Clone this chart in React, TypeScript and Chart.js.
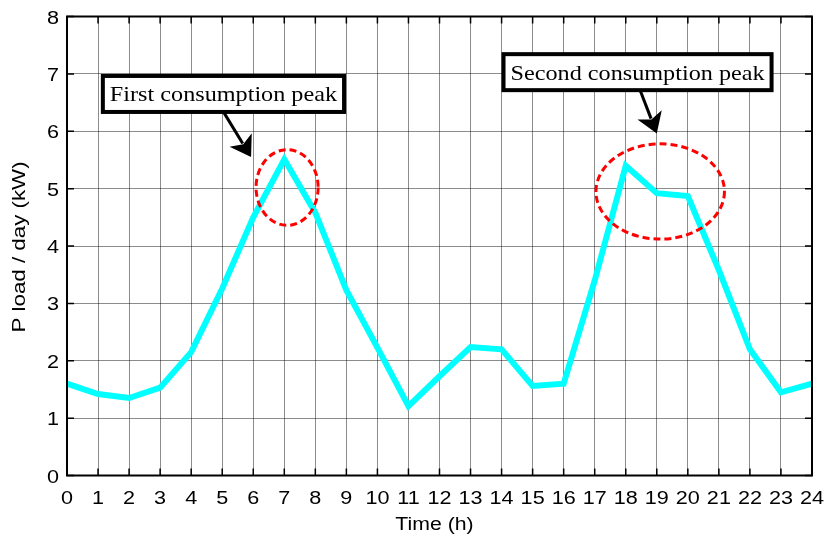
import React, { useEffect, useRef } from 'react';
import { Chart, registerables } from 'chart.js';

Chart.register(...registerables);

// ---- data ----
const hours = ['0', '1', '2', '3', '4', '5', '6', '7', '8', '9', '10', '11', '12', '13', '14', '15', '16', '17', '18', '19', '20', '21', '22', '23', '24'];
const pLoad = [1.6, 1.42, 1.35, 1.53, 2.15, 3.26, 4.5, 5.51, 4.58, 3.23, 2.23, 1.21, 1.73, 2.24, 2.2, 1.56, 1.6, 3.4, 5.4, 4.92, 4.87, 3.58, 2.2, 1.45, 1.6];
const yTickValues = [0, 1, 2, 3, 4, 5, 6, 7, 8];
const xTitle = 'Time (h)';
const yTitle = 'P load / day (kW)';

// ---- annotations (data coordinates: hour, kW) ----
const calloutTexts = ['First consumption peak', 'Second consumption peak'];
const calloutCenters = [[5.04, 6.65], [18.38, 7.03]];
const arrowFrom = [[5.06, 6.32], [18.46, 6.72]];
const arrowTo = [[5.93, 5.55], [19.0, 5.96]];
const ellipseCenters = [[7.09, 5.02], [19.11, 4.95]];
const ellipseRadii = [[1.0, 0.66], [2.07, 0.83]];

const SANS = 'Liberation Sans, Arial, sans-serif';
const SERIF = 'Liberation Serif, Times New Roman, serif';

function drawStretched(ctx: CanvasRenderingContext2D, text: string, x: number, y: number, sx: number, align: CanvasTextAlign, rot = 0) {
  ctx.save();
  ctx.translate(x, y);
  if (rot) ctx.rotate(rot);
  ctx.scale(sx, 1);
  ctx.textAlign = align;
  ctx.textBaseline = 'alphabetic';
  ctx.fillText(text, 0, 0);
  ctx.restore();
}

const overlayPlugin = {
  id: 'overlay',
  afterDraw(chart: any) {
    const { ctx, chartArea: a } = chart;
    const xs = chart.scales.x;
    const ys = chart.scales.y;
    ctx.save();

    // frame
    ctx.strokeStyle = '#000';
    ctx.lineWidth = 2;
    ctx.strokeRect(a.left, a.top, a.right - a.left, a.bottom - a.top);

    // inward ticks
    ctx.lineWidth = 1.5;
    ctx.beginPath();
    hours.forEach((_, i) => {
      const px = xs.getPixelForValue(i);
      ctx.moveTo(px, a.bottom); ctx.lineTo(px, a.bottom - 7);
      ctx.moveTo(px, a.top); ctx.lineTo(px, a.top + 7);
    });
    yTickValues.forEach((v) => {
      const py = ys.getPixelForValue(v);
      ctx.moveTo(a.left, py); ctx.lineTo(a.left + 7, py);
      ctx.moveTo(a.right, py); ctx.lineTo(a.right - 7, py);
    });
    ctx.stroke();

    // tick labels
    ctx.fillStyle = '#000';
    ctx.font = `18px ${SANS}`;
    hours.forEach((h, i) => {
      drawStretched(ctx, h, xs.getPixelForValue(i), a.bottom + 28.5, 1.2, 'center');
    });
    yTickValues.forEach((v) => {
      drawStretched(ctx, String(v), a.left - 8, ys.getPixelForValue(v) + 7, 1.2, 'right');
    });

    // axis titles
    drawStretched(ctx, xTitle, (a.left + a.right) / 2 - 5, a.bottom + 54, 1.18, 'center');
    drawStretched(ctx, yTitle, 25, (a.top + a.bottom) / 2 + 1, 1.24, 'center', -Math.PI / 2);

    // dashed ellipses
    ctx.strokeStyle = '#ff0000';
    ctx.lineWidth = 3;
    ctx.setLineDash([7, 4]);
    ellipseCenters.forEach((c, i) => {
      const cx = xs.getPixelForValue(c[0]);
      const cy = ys.getPixelForValue(c[1]);
      const rx = Math.abs(xs.getPixelForValue(c[0] + ellipseRadii[i][0]) - cx);
      const ry = Math.abs(ys.getPixelForValue(c[1] + ellipseRadii[i][1]) - cy);
      ctx.beginPath();
      ctx.ellipse(cx, cy, rx, ry, 0, 0, Math.PI * 2);
      ctx.stroke();
    });
    ctx.setLineDash([]);

    // arrows
    ctx.strokeStyle = '#000';
    ctx.fillStyle = '#000';
    arrowFrom.forEach((f, i) => {
      const x0 = xs.getPixelForValue(f[0]);
      const y0 = ys.getPixelForValue(f[1]);
      const x1 = xs.getPixelForValue(arrowTo[i][0]);
      const y1 = ys.getPixelForValue(arrowTo[i][1]);
      const dx = x1 - x0, dy = y1 - y0;
      const len = Math.hypot(dx, dy);
      const ux = dx / len, uy = dy / len;
      const headL = 20, headW = 13;
      const bx = x1 - ux * headL, by = y1 - uy * headL;
      ctx.lineWidth = 3;
      ctx.beginPath();
      ctx.moveTo(x0, y0);
      ctx.lineTo(bx + ux * 4, by + uy * 4);
      ctx.stroke();
      ctx.beginPath();
      ctx.moveTo(x1, y1);
      ctx.lineTo(bx - uy * headW, by + ux * headW);
      ctx.lineTo(bx + ux * 5, by + uy * 5);
      ctx.lineTo(bx + uy * headW, by - ux * headW);
      ctx.closePath();
      ctx.fill();
    });

    // callout boxes
    ctx.font = `22px ${SERIF}`;
    calloutTexts.forEach((t, i) => {
      const cx = xs.getPixelForValue(calloutCenters[i][0]);
      const cy = ys.getPixelForValue(calloutCenters[i][1]);
      const sx = 1.1;
      const w = ctx.measureText(t).width * sx + 14;
      const h = 36;
      ctx.fillStyle = '#fff';
      ctx.fillRect(cx - w / 2, cy - h / 2, w, h);
      ctx.strokeStyle = '#000';
      ctx.lineWidth = 4;
      ctx.strokeRect(cx - w / 2, cy - h / 2, w, h);
      ctx.fillStyle = '#000';
      drawStretched(ctx, t, cx, cy + 7.5, sx, 'center');
    });

    ctx.restore();
  },
};

export default function App() {
  const canvasRef = useRef<HTMLCanvasElement | null>(null);

  useEffect(() => {
    const canvas = canvasRef.current;
    if (!canvas) return;
    const chart = new Chart(canvas, {
      type: 'line',
      data: {
        labels: hours,
        datasets: [
          {
            label: 'P load',
            data: pLoad,
            borderColor: '#00ffff',
            backgroundColor: '#00ffff',
            borderWidth: 6,
            pointRadius: 0,
            tension: 0,
            borderJoinStyle: 'miter',
            fill: false,
          },
        ],
      },
      options: {
        responsive: false,
        animation: false,
        devicePixelRatio: 1,
        layout: { padding: { top: 16.5, right: 14, left: 0, bottom: 0 } },
        plugins: {
          legend: { display: false },
          tooltip: { enabled: false },
          title: { display: false },
        },
        scales: {
          x: {
            type: 'category',
            offset: false,
            grid: { color: 'rgba(0,0,0,0.45)', lineWidth: 1, drawTicks: false },
            border: { display: false },
            ticks: { display: false, autoSkip: false },
            afterFit: (s: any) => { s.height = 58.5; },
          },
          y: {
            type: 'linear',
            min: 0,
            max: 8,
            grid: { color: 'rgba(0,0,0,0.45)', lineWidth: 1, drawTicks: false },
            border: { display: false },
            ticks: { display: false, stepSize: 1 },
            afterFit: (s: any) => { s.width = 67; },
          },
        },
      },
      plugins: [overlayPlugin],
    } as any);
    return () => chart.destroy();
  }, []);

  return (
    <div style={{ position: 'absolute', left: 0, top: 0, width: 826, height: 534, background: '#fff' }}>
      <canvas ref={canvasRef} width={826} height={534} style={{ display: 'block', width: 826, height: 534 }} />
    </div>
  );
}
